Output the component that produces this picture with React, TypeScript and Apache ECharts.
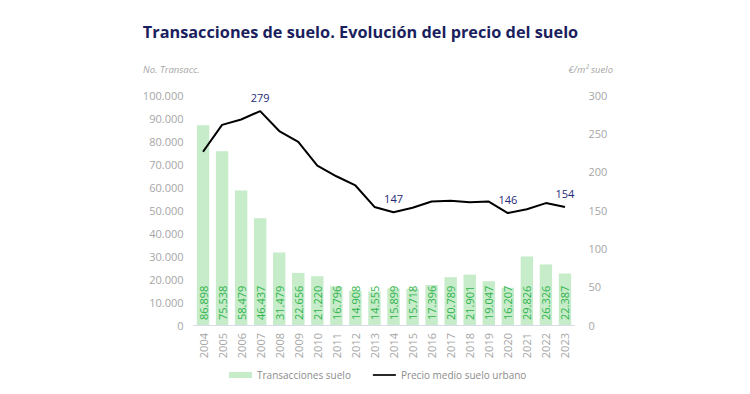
import React, { useEffect, useRef } from "react";
import * as echarts from "echarts";

const years = ["2004","2005","2006","2007","2008","2009","2010","2011","2012","2013","2014","2015","2016","2017","2018","2019","2020","2021","2022","2023"];
const transacciones = [86898,75538,58479,46437,31479,22656,21220,16796,14908,14555,15899,15718,17396,20789,21901,19047,16207,29826,26326,22387];
const precio = [226,261,268,279,253,239,208,194,182,154,147,153,161,162,160,161,146,151,159,154];
const labeledYears = ["2007","2014","2020","2023"];

const fmt = (v: number) => String(v).replace(/\B(?=(\d{3})+(?!\d))/g, ".");
const FONT = "Open Sans";
const LABEL_COLOR = "#1f2a78";

export default function App() {
  const ref = useRef<HTMLDivElement>(null);
  useEffect(() => {
    const chart = echarts.init(ref.current!, null, { renderer: "svg" });
    chart.setOption({
      animation: false,
      textStyle: { fontFamily: FONT },
      title: {
        text: "Transacciones de suelo. Evolución del precio del suelo",
        left: 355.5, top: 19, textAlign: "center",
        textStyle: { color: "#1b1f5e", fontSize: 16.3, fontWeight: "bold", fontFamily: FONT },
      },
      graphic: [
        { type: "text", left: 143, top: 64, style: { text: "No. Transacc.", fill: "#a6a6a6", font: `italic 9.5px "${FONT}"` } },
        { type: "text", right: 137, top: 64, style: { text: "€/m² suelo", fill: "#a6a6a6", font: `italic 9.5px "${FONT}"` } },
      ],
      legend: {
        bottom: 9, left: 224, itemGap: 22, itemGap: 22,
        textStyle: { color: "#8c8c8c", fontSize: 10, fontFamily: FONT },
        data: [
          { name: "Transacciones suelo", icon: "rect", itemStyle: { color: "#c6ecca" } },
          { name: "Precio medio suelo urbano", icon: "path://M0,0H30V2.2H0Z", itemStyle: { color: "#000", opacity: 1 } },
        ],
        itemWidth: 23, itemHeight: 6,
      },
      grid: { left: 193.5, right: 175.5, top: 95, bottom: 69, containLabel: false },
      xAxis: {
        type: "category", data: years,
        axisLine: { lineStyle: { color: "#d9dbe8" } },
        axisTick: { show: false },
        axisLabel: { rotate: 90, color: "#a6a6a6", fontSize: 11, margin: 8 },
      },
      yAxis: [
        {
          type: "value", min: 0, max: 100000, interval: 10000,
          splitLine: { show: false }, axisLine: { show: false }, axisTick: { show: false },
          axisLabel: { color: "#a6a6a6", fontSize: 11, margin: 10, formatter: (v: number) => fmt(v) },
        },
        {
          type: "value", min: 0, max: 300, interval: 50,
          splitLine: { show: false }, axisLine: { show: false }, axisTick: { show: false },
          axisLabel: { color: "#a6a6a6", fontSize: 11, margin: 14 },
        },
      ],
      series: [
        {
          name: "Transacciones suelo", type: "bar", data: transacciones, barCategoryGap: "35%",
          itemStyle: { color: "#c6ecca" },
          label: {
            show: true, position: "insideBottom", rotate: 90, align: "left", verticalAlign: "middle",
            distance: 5, color: "#2fb34a", fontSize: 11, formatter: (p: any) => fmt(p.value),
          },
        },
        {
          name: "Precio medio suelo urbano", type: "line", yAxisIndex: 1,
          data: precio.map((v, i) => ({
            value: v,
            label: { show: labeledYears.includes(years[i]), color: LABEL_COLOR },
          })),
          symbol: "circle", symbolSize: 0.01, showSymbol: true, showAllSymbol: true,
          lineStyle: { color: "#000", width: 2 }, itemStyle: { color: "#000" },
          label: {
            show: false, position: "top", distance: 8, color: LABEL_COLOR, fontSize: 11,
          },
        },
      ],
    });
    return () => chart.dispose();
  }, []);
  return <div ref={ref} style={{ width: 750, height: 394, position: "absolute", left: 0, top: 0 }} />;
}
